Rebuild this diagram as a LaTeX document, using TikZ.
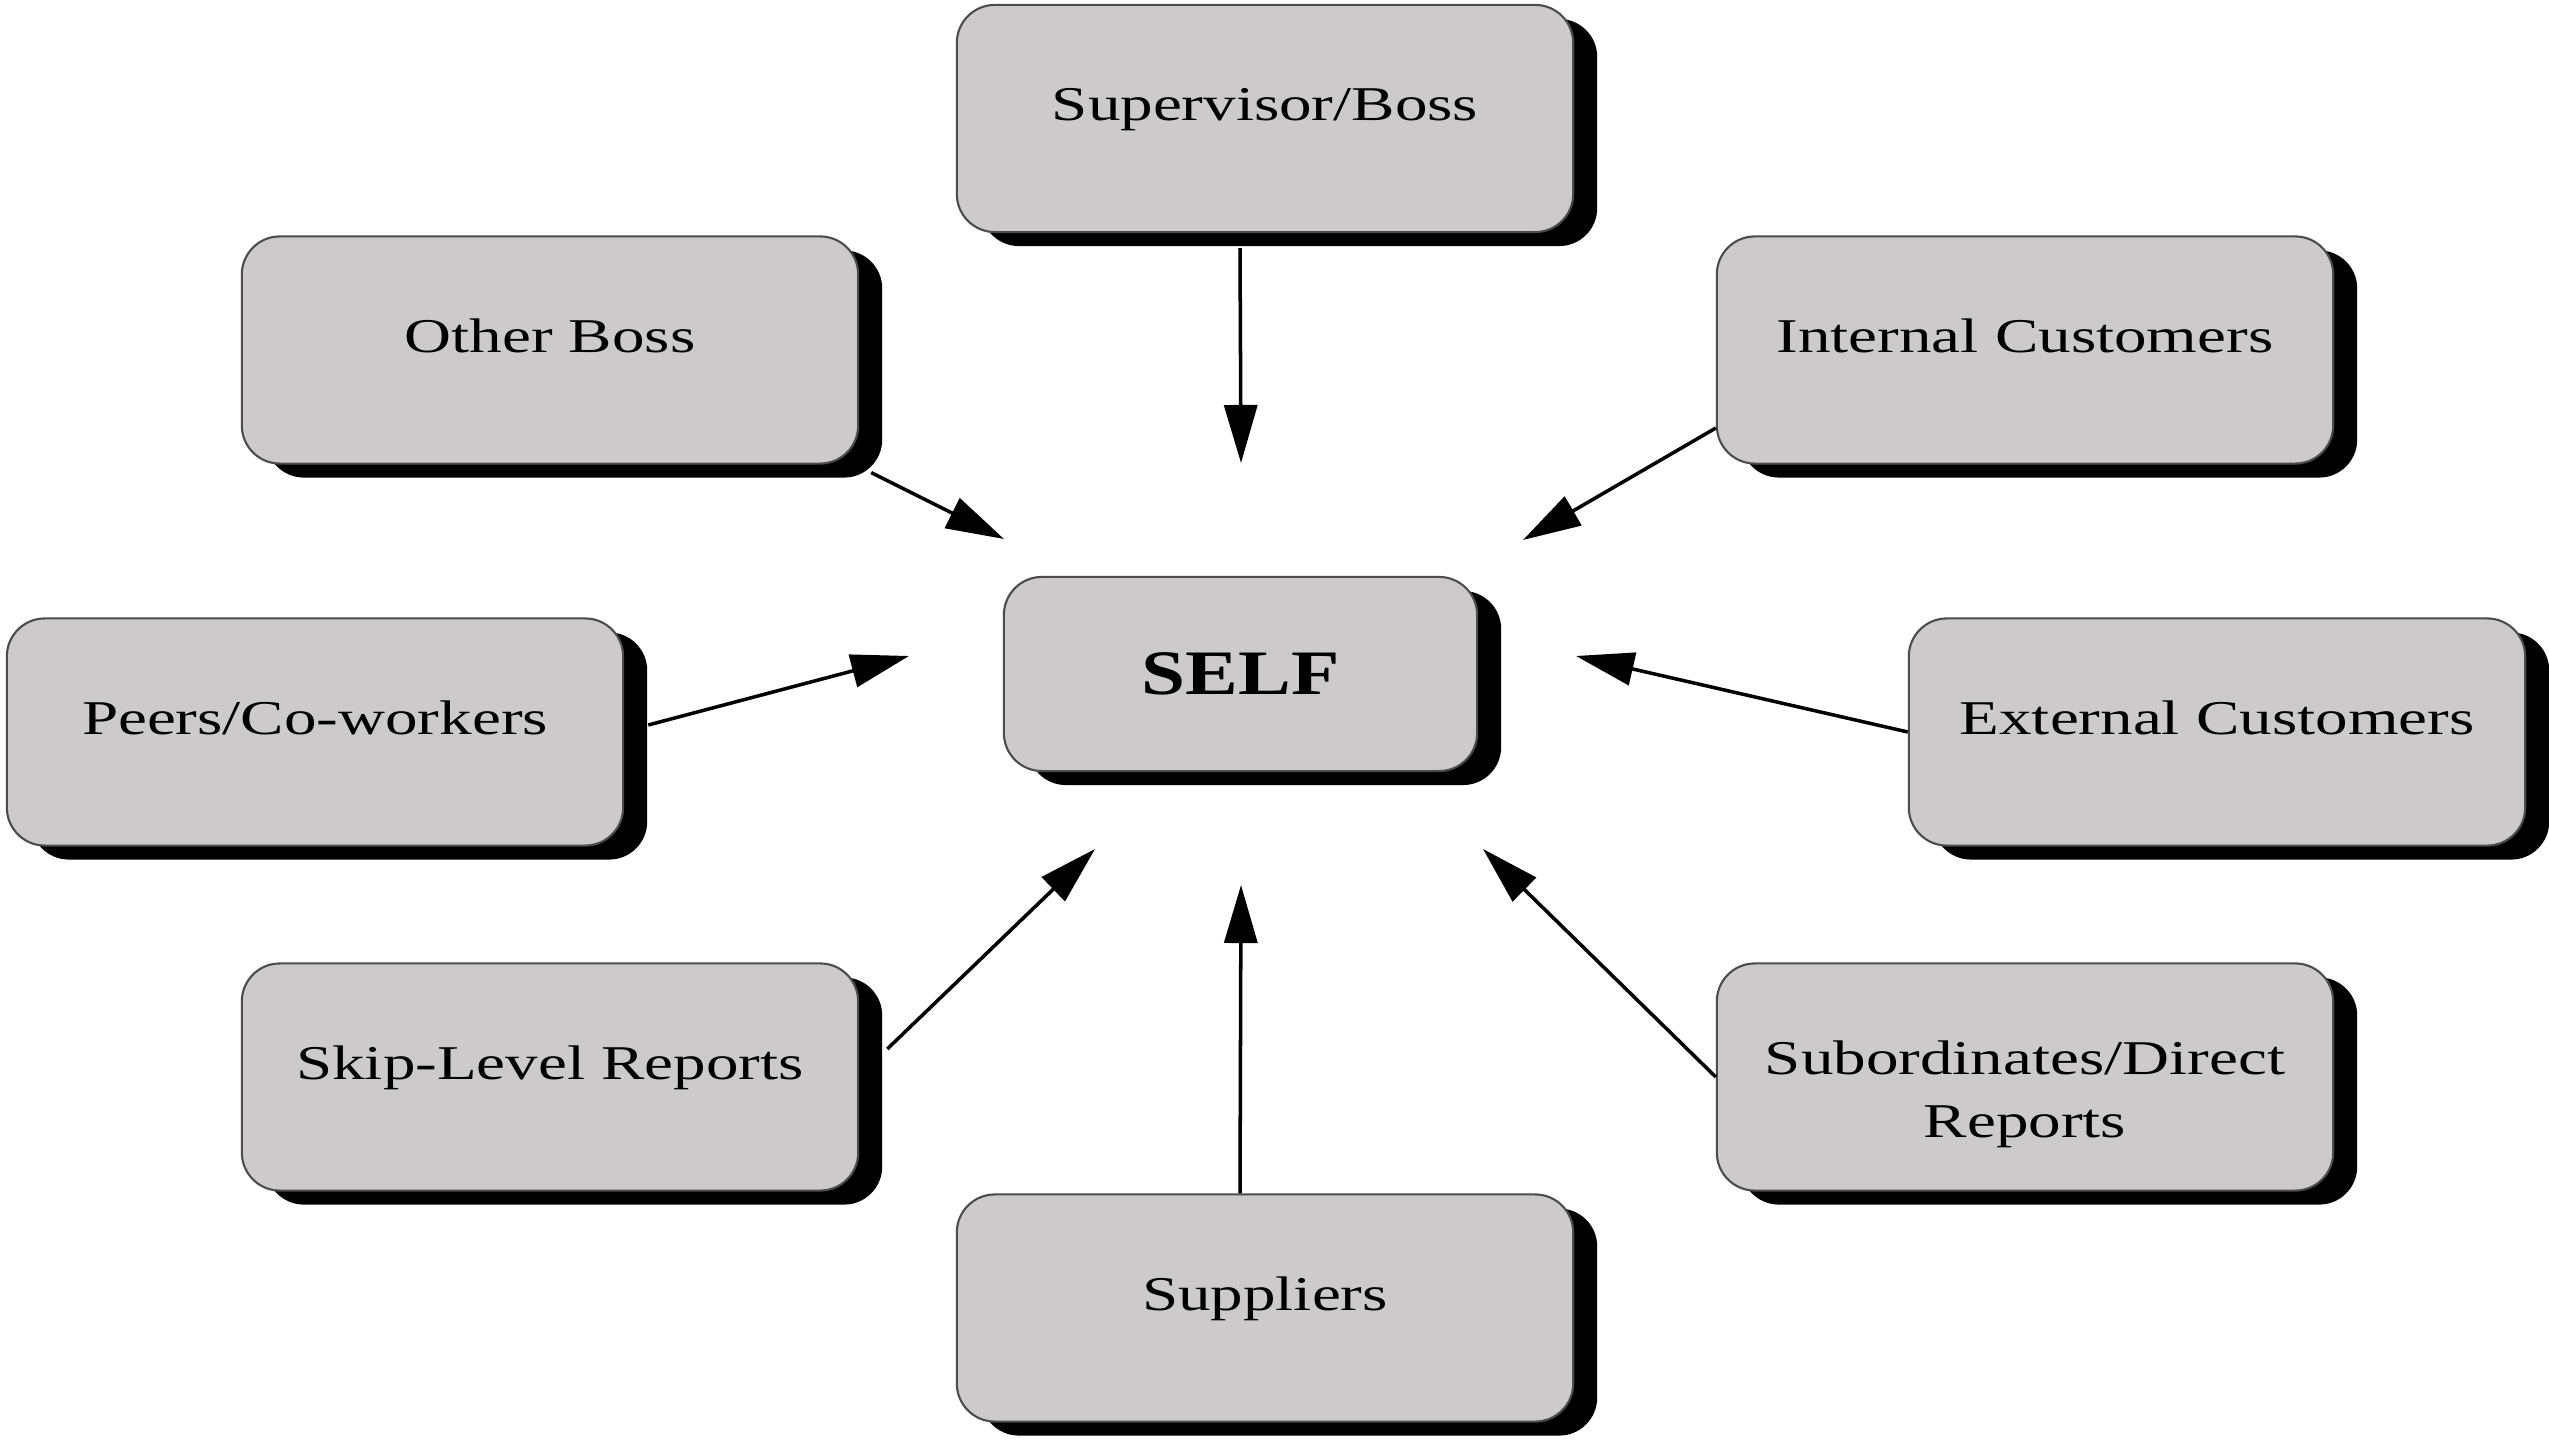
\documentclass[tikz,border=0pt]{standalone}
\usepackage{fontspec}
\setmainfont{Liberation Serif}
\newfontfamily\boxfont[FakeStretch=1.34]{Liberation Serif}
\newfontfamily\selffont[FakeStretch=1.25]{Liberation Serif}
\usetikzlibrary{shadows,arrows.meta}
\definecolor{boxgray}{RGB}{205,202,203}

\tikzset{
  box/.style={draw=black!70, line width=0.6pt, fill=boxgray,
    rounded corners=0.38cm, minimum width=6.16cm, minimum height=2.27cm,
    inner sep=0pt,
    drop shadow={shadow xshift=0.24cm, shadow yshift=-0.14cm,
      fill=black, opacity=1}},
  lbl/.style={font=\boxfont\fontsize{13.8}{17.9}\selectfont,
    align=center, inner sep=0pt},
  link/.style={line width=1pt, -{Triangle[length=0.58cm,width=0.33cm]}},
}

\begin{document}
\begin{tikzpicture}[x=0.01cm, y=-0.01cm]
  \useasboundingbox (0,0) rectangle (2549,1440);

  % boxes
  \node[box] (sup)   at (1265,118.5) {};
  \node[box] (other) at (550,350)  {};
  \node[box] (int)   at (2025,350) {};
  \node[box, minimum width=4.73cm, minimum height=1.94cm] (self) at (1240.5,674) {};
  \node[box] (peers) at (315,732)  {};
  \node[box] (ext)   at (2217,732) {};
  \node[box] (skip)  at (550,1077) {};
  \node[box] (sub)   at (2025,1077) {};
  \node[box] (supp)  at (1265,1308) {};

  % labels
  \node[lbl, anchor=base] (tsup)   at ([yshift=-1.17cm]sup.north)   {Supervisor/Boss};
  \node[lbl, anchor=base] (tother) at ([yshift=-1.17cm]other.north) {Other Boss};
  \node[lbl, anchor=base] (tint)   at ([yshift=-1.17cm]int.north)   {Internal Customers};
  \node[lbl, anchor=base] (tpeers) at ([yshift=-1.17cm]peers.north) {Peers/Co-workers};
  \node[lbl, anchor=base] (text)   at ([yshift=-1.17cm]ext.north)   {External Customers};
  \node[lbl, anchor=base] (tskip)  at ([yshift=-1.17cm]skip.north)  {Skip-Level Reports};
  \node[lbl]              (tsub)   at ([yshift=-1.32cm]sub.north)   {Subordinates/Direct\\Reports};
  \node[lbl, anchor=base] (tsupp)  at ([yshift=-1.17cm]supp.north)  {Suppliers};
  \node[font=\selffont\fontsize{18}{22}\selectfont\bfseries, inner sep=0pt] (tself) at (self) {SELF};

  % arrow tips around the centre box
  \coordinate (eSup)   at (1241,463);
  \coordinate (eOther) at (1004,539);
  \coordinate (eInt)   at (1523,540);
  \coordinate (ePeers) at (909,656);
  \coordinate (eExt)   at (1576,656);
  \coordinate (eSkip)  at (1095,849);
  \coordinate (eSub)   at (1483,849);
  \coordinate (eSupp)  at (1241,885);

  % connectors
  \draw[link] ([xshift=-0.25cm, yshift=-0.15cm]sup.south) -- (eSup);
  \draw[link] ([xshift=0.12cm, yshift=-0.08cm]other.south east) -- (eOther);
  \draw[link] ([yshift=-0.78cm]int.west) -- (eInt);
  \draw[link] ([xshift=0.24cm, yshift=0.07cm]peers.east) -- (ePeers);
  \draw[link] (ext.west) -- (eExt);
  \draw[link] ([xshift=0.28cm, yshift=0.28cm]skip.east) -- (eSkip);
  \draw[link] (sub.west) -- (eSub);
  \draw[link] ([xshift=-0.25cm]supp.north) -- (eSupp);
\end{tikzpicture}
\end{document}
